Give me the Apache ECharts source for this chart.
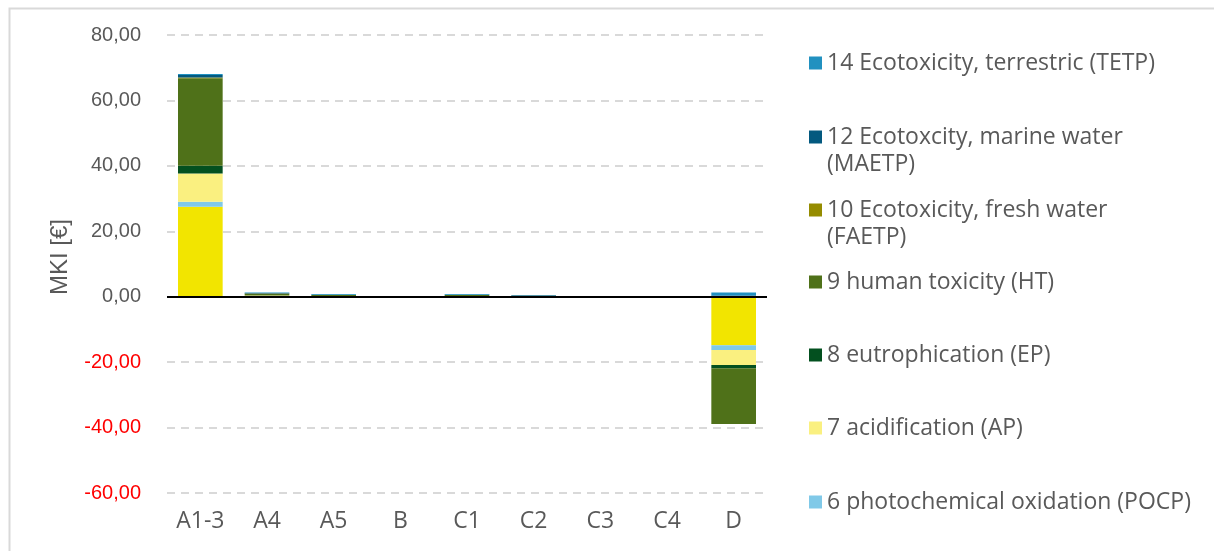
<!DOCTYPE html>
<html>
<head>
<meta charset="utf-8">
<script src="https://cdn.jsdelivr.net/npm/echarts@6/dist/echarts.min.js"></script>
<style>
  html, body { margin: 0; padding: 0; background: #fff; }
  #main { width: 1214px; height: 551px; }
</style>
</head>
<body>
<div id="main"></div>
<script>
var categories = ['A1-3', 'A4', 'A5', 'B', 'C1', 'C2', 'C3', 'C4', 'D'];

// stacked from bottom to top
var otherVals = [27.5, 0.2, 0.1, 0, 0.1, 0.05, 0, 0, -14.8];
var pocpVals  = [1.5, 0.05, 0, 0, 0, 0, 0, 0, -1.5];
var apVals    = [8.7, 0.1, 0.05, 0, 0.05, 0, 0, 0, -4.6];
var epVals    = [2.3, 0.05, 0.05, 0, 0.05, 0.05, 0, 0, -1.0];
var htVals    = [26.8, 0.5, 0.3, 0, 0.3, 0.2, 0.02, 0.02, -17.0];
var faetpVals = [0.2, 0.1, 0.02, 0, 0.02, 0.02, 0, 0, 0.1];
var maetpVals = [0.8, 0.1, 0.1, 0, 0.1, 0.1, 0, 0, 0.3];
var tetpVals  = [0.3, 0.2, 0.2, 0, 0.2, 0.1, 0, 0, 0.9];

var otherName = 'overige categorieën';
var legendNames = [
  '14 Ecotoxicity, terrestric (TETP)',
  '12 Ecotoxcity, marine water\n(MAETP)',
  '10 Ecotoxicity, fresh water\n(FAETP)',
  '9 human toxicity (HT)',
  '8 eutrophication (EP)',
  '7 acidification (AP)',
  '6 photochemical oxidation (POCP)'
];
var legendCenters = [63, 137, 210, 282, 355, 428, 502];

var myChart = echarts.init(document.getElementById('main'));

function bar(name, data, color) {
  return {
    name: name,
    type: 'bar',
    stack: 'mki',
    barCategoryGap: '33%',
    itemStyle: { color: color },
    data: data
  };
}

var series = [
  bar(otherName, otherVals, '#F2E500'),
  bar(legendNames[6], pocpVals, '#80C9E8'),
  bar(legendNames[5], apVals, '#FAF080'),
  bar(legendNames[4], epVals, '#03501F'),
  bar(legendNames[3], htVals, '#4F7119'),
  bar(legendNames[2], faetpVals, '#958C00'),
  bar(legendNames[1], maetpVals, '#03597F'),
  bar(legendNames[0], tetpVals, '#2191C0')
];

// zero line
series[0].markLine = {
  silent: true,
  symbol: 'none',
  label: { show: false },
  lineStyle: { color: '#000', width: 2, type: 'solid' },
  data: [{ yAxis: 0 }]
};

// one legend per entry so the spacing can follow the picture;
// wrapped names get an empty first line so the icon sits next to line one
var legends = legendNames.map(function(name, i) {
  var wrapped = name.indexOf('\n') >= 0;
  return {
    show: true,
    orient: 'vertical',
    left: 809,
    top: legendCenters[i] - (wrapped ? 40.5 : 13.5),
    padding: 0,
    itemWidth: 13,
    itemHeight: 13,
    itemGap: 0,
    selectedMode: false,
    icon: 'rect',
    data: [name],
    formatter: function(n) { return wrapped ? '\n' + n : n; },
    textStyle: {
      fontFamily: 'Open Sans',
      fontSize: 23,
      color: '#595959',
      lineHeight: 27
    }
  };
});

option = {
  animation: false,
  backgroundColor: '#fff',
  legend: legends,
  grid: {
    left: 167,
    right: 447,
    top: 35,
    bottom: 58
  },
  xAxis: {
    type: 'category',
    data: categories,
    axisLine: { show: false, onZero: false },
    axisTick: { show: false },
    axisLabel: {
      margin: 17,
      fontFamily: 'Open Sans',
      fontSize: 23,
      color: '#595959'
    }
  },
  yAxis: {
    type: 'value',
    min: -60,
    max: 80,
    interval: 20,
    axisLine: { show: false },
    axisTick: { show: false },
    splitLine: {
      lineStyle: { color: '#D9D9D9', width: 2, type: [8, 6] }
    },
    axisLabel: {
      margin: 26,
      fontFamily: 'Liberation Sans',
      fontSize: 20,
      color: function(value) { return value < 0 ? '#FF0000' : '#595959'; },
      formatter: function(value) { return value.toFixed(2).replace('.', ','); }
    }
  },
  graphic: [
    {
      type: 'rect',
      left: 7, top: 6,
      shape: { width: 1230, height: 580 },
      style: { fill: 'none', stroke: '#D9D9D9', lineWidth: 2 },
      silent: true
    },
    {
      type: 'text',
      x: 60, y: 257,
      rotation: Math.PI / 2,
      style: {
        text: 'MKI [€]',
        fontFamily: 'Liberation Sans',
        fontSize: 24,
        fill: '#595959',
        align: 'center',
        verticalAlign: 'middle'
      }
    }
  ],
  series: series
};

myChart.setOption(option);
</script>
</body>
</html>
